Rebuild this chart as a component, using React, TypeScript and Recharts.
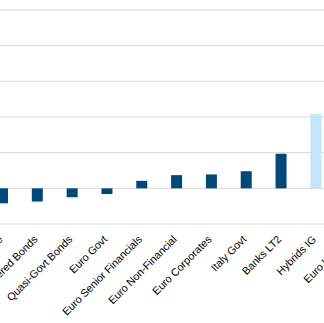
import React from 'react';
import { BarChart, Bar, XAxis, YAxis, CartesianGrid, Cell } from 'recharts';

const categories = [
  'Euro Aggregate',
  'Covered Bonds',
  'Quasi-Govt Bonds',
  'Euro Govt',
  'Euro Senior Financials',
  'Euro Non-Financial',
  'Euro Corporates',
  'Italy Govt',
  'Banks LT2',
  'Hybrids IG',
  'Euro Hybrids',
];

const values = [-0.42, -0.37, -0.25, -0.16, 0.21, 0.37, 0.39, 0.48, 0.97, 2.08, 3.4];

const highlighted = ['Hybrids IG', 'Euro Hybrids'];

const yTicks = [-1, 0, 1, 2, 3, 4, 5];

const NAVY = '#004878';
const LIGHT = '#c2e5f9';

const data = categories.map((name, i) => ({ name, value: values[i] }));

// Rotated category label, text ends at the tick
const AngledTick = ({ x, y, payload }: any) => (
  <text
    x={x + 1}
    y={y + 8}
    transform={`rotate(-45, ${x + 1}, ${y + 8})`}
    textAnchor="end"
    fontSize={10.7}
    fill="#000"
    fontFamily="'Liberation Sans', Arial, sans-serif"
  >
    {payload.value}
  </text>
);

export default function App() {
  return (
    <div
      style={{
        position: 'absolute',
        left: 0,
        top: 0,
        width: 324,
        height: 323,
        overflow: 'hidden',
        background: '#fff',
      }}
    >
      <div style={{ position: 'absolute', left: -15, top: 0 }}>
        <BarChart
          width={383}
          height={323}
          data={data}
          margin={{ top: 10, right: 0, bottom: 0, left: 0 }}
        >
          <CartesianGrid vertical={false} stroke="#d9d9d9" strokeWidth={1} />
          <XAxis
            dataKey="name"
            interval={0}
            axisLine={false}
            tickLine={false}
            height={99}
            tick={<AngledTick />}
          />
          <YAxis hide domain={[-1, 5]} ticks={yTicks} />
          <Bar dataKey="value" barSize={11} isAnimationActive={false}>
            {data.map((d) => (
              <Cell key={d.name} fill={highlighted.includes(d.name) ? LIGHT : NAVY} />
            ))}
          </Bar>
        </BarChart>
      </div>
    </div>
  );
}
